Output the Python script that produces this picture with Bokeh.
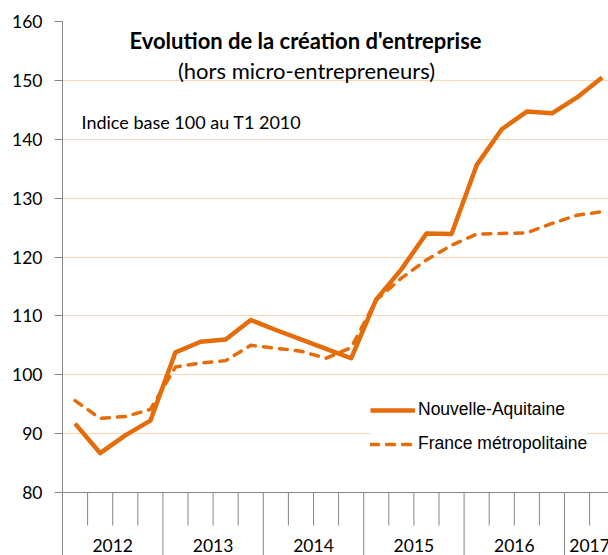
from bokeh.plotting import figure
from bokeh.models import (Range1d, FixedTicker, Legend, LegendItem, BoxAnnotation,
                          Label, Span, ColumnDataSource)
from bokeh.core.properties import value
from bokeh.embed import file_html
from bokeh.resources import INLINE

# ---------------- data ----------------
quarters = ["2012T1", "2012T2", "2012T3", "2012T4",
            "2013T1", "2013T2", "2013T3", "2013T4",
            "2014T1", "2014T2", "2014T3", "2014T4",
            "2015T1", "2015T2", "2015T3", "2015T4",
            "2016T1", "2016T2", "2016T3", "2016T4",
            "2017T1", "2017T2"]
nouvelle_aquitaine = [91.7, 86.7, 89.7, 92.2, 103.8, 105.6, 106.0, 109.3,
                      107.6, 106.0, 104.4, 102.8, 112.8, 117.9, 124.0, 123.9,
                      135.6, 141.7, 144.7, 144.4, 147.1, 150.5]
france_metro = [95.6, 92.6, 92.9, 94.1, 101.3, 102.0, 102.4, 105.0,
                104.5, 104.0, 102.8, 104.6, 112.7, 116.4, 119.5, 122.0,
                123.9, 124.0, 124.1, 125.7, 127.1, 127.7]
years = ["2012", "2013", "2014", "2015", "2016", "2017"]
quarters_per_year = [4, 4, 4, 4, 4, 2]
y_ticks = [80, 90, 100, 110, 120, 130, 140, 150, 160]

title = "Evolution de la création d'entreprise"
subtitle = "(hors micro-entrepreneurs)"
note = "Indice base 100 au T1 2010"

# ---------------- geometry ----------------
ORANGE = "#E46C0A"
GRID = "#FCD5B4"
AXIS = "#868686"
PX_PER_Q = 25.1          # pixels per quarter
PX_PER_U = 5.8875        # pixels per index unit
W, H = 608, 555
LEFT, TOP = 62, 21
frame_w = W - LEFT
frame_h = H - TOP
x_end = frame_w / PX_PER_Q
y_top = 160
y_bottom = y_top - frame_h / PX_PER_U

def px_to_x(px):   # picture pixel -> data x
    return (px - LEFT) / PX_PER_Q

def px_to_y(py):   # picture pixel -> data y
    return y_top - (py - TOP) / PX_PER_U

xs = [i + 0.5 for i in range(len(quarters))]
src = ColumnDataSource(dict(x=xs, na=nouvelle_aquitaine, fm=france_metro, q=quarters))

p = figure(width=W, height=H, output_backend="svg", toolbar_location=None,
           x_axis_location=None,
           x_range=Range1d(0, x_end), y_range=Range1d(y_bottom, y_top),
           min_border_left=LEFT, min_border_right=0,
           min_border_top=TOP, min_border_bottom=0)
p.outline_line_color = None
p.background_fill_color = "white"
p.border_fill_color = "white"

# grid
p.xgrid.visible = False
p.ygrid.ticker = FixedTicker(ticks=y_ticks[1:])
p.ygrid.grid_line_color = GRID
p.ygrid.grid_line_width = 1

# y axis
ya = p.yaxis[0]
ya.ticker = FixedTicker(ticks=y_ticks)
ya.major_tick_out = 8
ya.major_tick_in = 0
ya.minor_tick_out = 0
ya.minor_tick_in = 0
ya.axis_line_color = AXIS
ya.major_tick_line_color = AXIS
ya.major_label_text_font = "Lato"
ya.major_label_text_font_size = "17.5px"
ya.major_label_text_color = "#000000"
ya.major_label_standoff = 12

# x axis baseline
p.add_layout(Span(location=80, dimension="width", line_color=AXIS, line_width=1))

# category separators
bounds = [0]
for n in quarters_per_year:
    bounds.append(bounds[-1] + n)
year_bounds = [b for b in bounds[1:] if b < x_end]
short = [i for i in range(1, len(quarters)) if i not in bounds]
short_end = 80 - 33 / PX_PER_U
p.segment(x0=short, y0=[80] * len(short), x1=short, y1=[short_end] * len(short),
          line_color=AXIS, line_width=1)
p.segment(x0=year_bounds, y0=[80] * len(year_bounds), x1=year_bounds,
          y1=[y_bottom] * len(year_bounds), line_color=AXIS, line_width=1)

# year labels
centers = [(bounds[i] + bounds[i + 1]) / 2 for i in range(len(years))]
p.text(x=centers, y=[px_to_y(545)] * len(years), text=years,
       text_align="center", text_baseline="middle",
       text_font=value("Lato"), text_font_size="17.5px", text_color="#000000")

# white box behind title (hides part of the 160 grid line)
p.add_layout(BoxAnnotation(left=px_to_x(77), right=px_to_x(533), bottom=159, top=161,
                           fill_color="white", fill_alpha=1.0, line_color=None))

# series
r1 = p.line("x", "na", source=src, line_color=ORANGE, line_width=4.5, line_join="round")
r2 = p.line("x", "fm", source=src, line_color=ORANGE, line_width=3.5,
            line_dash="8 8", line_cap="round", line_join="round")

# titles
p.add_layout(Label(x=px_to_x(305), y=px_to_y(40), text=title, text_align="center",
                   text_baseline="alphabetic", text_font="Lato", text_font_style="bold",
                   text_font_size="22px", text_color="#000000"))
p.add_layout(Label(x=px_to_x(306), y=px_to_y(70), text=subtitle, text_align="center",
                   text_baseline="alphabetic", text_font="Lato",
                   text_font_size="22px", text_color="#000000"))
p.add_layout(Label(x=px_to_x(81), y=px_to_y(121), text=note, text_align="left",
                   text_baseline="alphabetic", text_font="Lato",
                   text_font_size="18px", text_color="#000000"))

# legend
legend = Legend(items=[LegendItem(label="Nouvelle-Aquitaine", renderers=[r1]),
                       LegendItem(label="France métropolitaine", renderers=[r2])],
                location=(308, 101), orientation="vertical",
                glyph_width=45, glyph_height=20, label_height=20, spacing=13,
                label_standoff=3, padding=20, margin=0,
                label_text_font="Liberation Sans", label_text_font_size="17.5px",
                label_text_color="#000000",
                background_fill_color="white", background_fill_alpha=1.0,
                border_line_color=None)
p.add_layout(legend)

open("out.html", "w").write(file_html(p, INLINE))
